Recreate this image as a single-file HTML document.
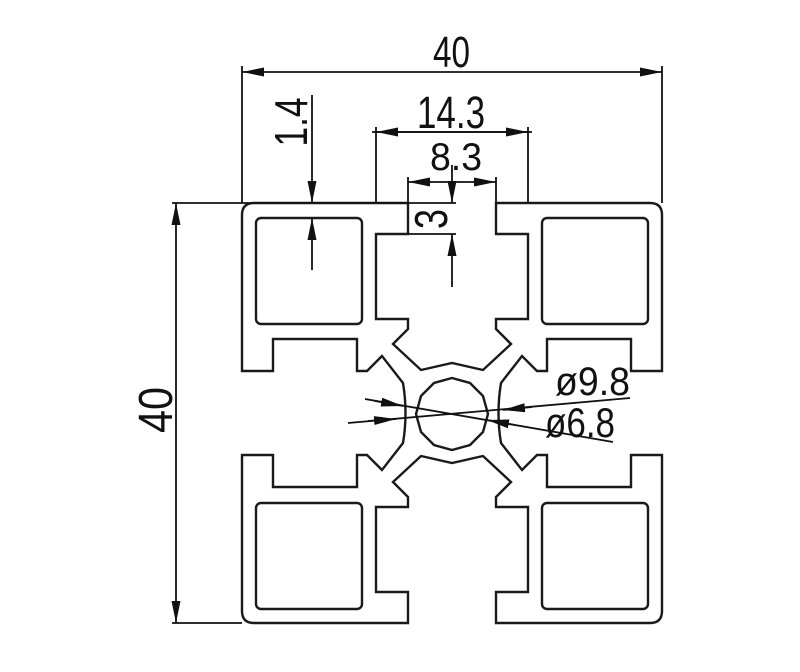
<!DOCTYPE html>
<html><head><meta charset="utf-8"><style>
html,body{margin:0;padding:0;background:#fff;}
svg{display:block;}
text{font-family:"Liberation Sans",sans-serif;fill:#111;}
</style></head><body>
<svg width="800" height="672" viewBox="0 0 800 672" xmlns="http://www.w3.org/2000/svg">
<defs>
<marker id="a" markerUnits="userSpaceOnUse" markerWidth="24" markerHeight="12" refX="22" refY="6" orient="auto-start-reverse" viewBox="0 0 24 12">
<path d="M0,1.5 L22,6 L0,10.5 Z" fill="#111"/>
</marker>
</defs>
<g fill="none" stroke="#1a1a1a" stroke-width="2.4" stroke-linejoin="miter">
<path d="M254,203 L408,203 L408,234 L376,234 L376,319 L408,319 L408,329 L393,344 L421,370 L452,363 L483,370 L511,344 L496,329 L496,319 L528,319 L528,234 L496,234 L496,203 L650,203 Q662,203 662,215 L662,371 L631,371 L631,339 L547,339 L547,371 L537,371 L522,356 L501,383 Q496,413 501,443 L522,470 L537,455 L547,455 L547,487 L631,487 L631,455 L662,455 L662,611 Q662,623 650,623 L496,623 L496,592 L528,592 L528,507 L496,507 L496,497 L511,482 L483,456 L452,463 L421,456 L393,482 L408,497 L408,507 L376,507 L376,592 L408,592 L408,623 L254,623 Q242,623 242,611 L242,455 L273,455 L273,487 L357,487 L357,455 L367,455 L382,470 L403,443 Q408,413 403,383 L382,356 L367,371 L357,371 L357,339 L273,339 L273,371 L242,371 L242,215 Q242,203 254,203 Z"/>
<rect x="256" y="218" width="106" height="106" rx="5"/>
<rect x="542" y="218" width="106" height="106" rx="5"/>
<rect x="256" y="503" width="106" height="106" rx="5"/>
<rect x="542" y="503" width="106" height="106" rx="5"/>
<polygon points="452,378 470,383 483,396 488,414 483,432 470,445 452,450 434,445 421,432 416,414 421,396 434,383"/>
</g>
<g stroke="#111" stroke-width="1.8" fill="none">
<line x1="242" y1="66" x2="242" y2="203"/>
<line x1="662" y1="66" x2="662" y2="203"/>
<line x1="242" y1="72" x2="662" y2="72" marker-start="url(#a)" marker-end="url(#a)"/>
<line x1="172" y1="203" x2="456" y2="203"/>
<line x1="172" y1="623" x2="242" y2="623"/>
<line x1="176" y1="203" x2="176" y2="623" marker-start="url(#a)" marker-end="url(#a)"/>
<line x1="376" y1="127" x2="376" y2="203"/>
<line x1="528" y1="127" x2="528" y2="203"/>
<line x1="372" y1="132" x2="532" y2="132"/>
<line x1="376" y1="132" x2="528" y2="132" marker-start="url(#a)" marker-end="url(#a)"/>
<line x1="408" y1="177" x2="408" y2="203"/>
<line x1="496" y1="177" x2="496" y2="203"/>
<line x1="452" y1="182" x2="408" y2="182" marker-end="url(#a)"/>
<line x1="452" y1="182" x2="496" y2="182" marker-end="url(#a)"/>
<line x1="408" y1="234" x2="456" y2="234"/>
<line x1="452" y1="165" x2="452" y2="203" marker-end="url(#a)"/>
<line x1="452" y1="287" x2="452" y2="234" marker-end="url(#a)"/>
<line x1="312" y1="95" x2="312" y2="203" marker-end="url(#a)"/>
<line x1="312" y1="270" x2="312" y2="218" marker-end="url(#a)"/>
<line x1="365" y1="399" x2="613" y2="442"/>
<line x1="348" y1="423" x2="630" y2="398"/>
<line x1="375" y1="401" x2="403" y2="406" marker-end="url(#a)"/>
<line x1="515" y1="425" x2="487" y2="420" marker-end="url(#a)"/>
<line x1="368" y1="421" x2="396" y2="419" marker-end="url(#a)"/>
<line x1="532" y1="407" x2="503" y2="410" marker-end="url(#a)"/>
</g>
<text x="433" y="67" font-size="44" textLength="37" lengthAdjust="spacingAndGlyphs">40</text>
<text x="417" y="128" font-size="45" textLength="68" lengthAdjust="spacingAndGlyphs">14.3</text>
<text x="430" y="170" font-size="39" textLength="52" lengthAdjust="spacingAndGlyphs">8.3</text>
<text transform="translate(447,219) rotate(-90)" text-anchor="middle" font-size="46" textLength="20" lengthAdjust="spacingAndGlyphs">3</text>
<text transform="translate(307,122) rotate(-90)" text-anchor="middle" font-size="46" textLength="49" lengthAdjust="spacingAndGlyphs">1.4</text>
<text transform="translate(172,410) rotate(-90)" text-anchor="middle" font-size="48" textLength="46" lengthAdjust="spacingAndGlyphs">40</text>
<text x="555" y="395" font-size="40" textLength="75" lengthAdjust="spacingAndGlyphs">ø9.8</text>
<text x="545" y="437" font-size="42" textLength="70" lengthAdjust="spacingAndGlyphs">ø6.8</text>
</svg>
</body></html>
